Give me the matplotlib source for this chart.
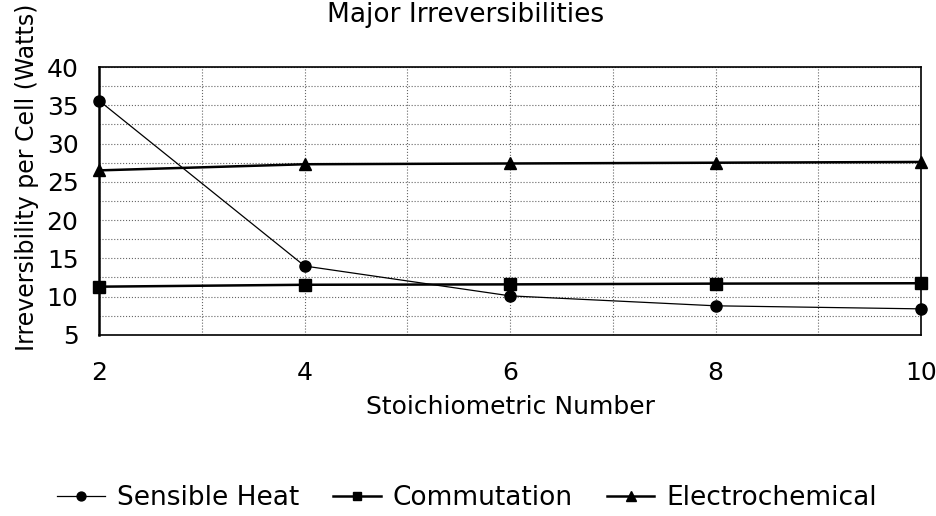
import matplotlib
matplotlib.use('Agg')
import matplotlib.pyplot as plt
from matplotlib.ticker import MultipleLocator

plt.rcParams['font.family'] = ['DejaVu Sans']

# stoichiometric number vs irreversibility per cell (W)
stoich = [2, 4, 6, 8, 10]
sensible_heat = [35.6, 14.0, 10.1, 8.8, 8.4]
commutation = [11.3, 11.55, 11.6, 11.7, 11.75]
electrochemical = [26.5, 27.3, 27.4, 27.5, 27.6]

fig = plt.figure(figsize=(9.36, 5.16), dpi=100)
ax = fig.add_axes([0.106, 0.351, 0.878, 0.519])

ax.plot(stoich, sensible_heat, color='black', lw=0.9, marker='o',
        markersize=8, label='Sensible Heat', clip_on=False, zorder=3)
ax.plot(stoich, commutation, color='black', lw=1.8, marker='s',
        markersize=8, label='Commutation', clip_on=False, zorder=3)
ax.plot(stoich, electrochemical, color='black', lw=1.8, marker='^',
        markersize=9, label='Electrochemical', clip_on=False, zorder=3)

ax.set_xlim(2, 10)
ax.set_ylim(5, 40)
ax.xaxis.set_major_locator(MultipleLocator(2))
ax.xaxis.set_minor_locator(MultipleLocator(1))
ax.yaxis.set_major_locator(MultipleLocator(5))
ax.yaxis.set_minor_locator(MultipleLocator(2.5))
ax.grid(which='both', color='#666666', ls=':', lw=0.8)
ax.tick_params(which='both', length=0, labelsize=18)
ax.tick_params(axis='x', pad=19)
ax.tick_params(axis='y', pad=15)
for side in ax.spines.values():
    side.set_color('black')
    side.set_linewidth(1.2)
ax.spines['left'].set_linewidth(1.8)

ax.set_xlabel('Stoichiometric Number', fontsize=18, labelpad=7)
ax.set_ylabel('Irreversibility per Cell (Watts)', fontsize=17)
ax.yaxis.set_label_coords(-0.073, 0.59)
fig.text(0.497, 0.958, 'Major Irreversibilities', fontsize=19,
         ha='center', va='baseline')

fig.legend(loc='center', bbox_to_anchor=(0.499, 0.035), ncol=3, frameon=False,
           fontsize=19, handlelength=1.8, columnspacing=1.3,
           handletextpad=0.45, markerscale=0.8)

fig.savefig('out.png', dpi=100)
